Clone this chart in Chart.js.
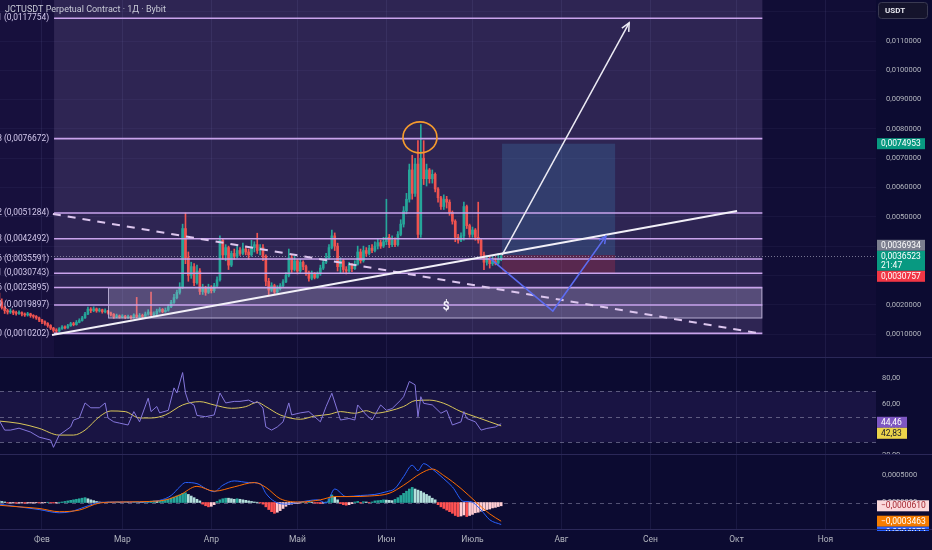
<!DOCTYPE html>
<html>
<head>
<meta charset="utf-8">
<script src="https://cdn.jsdelivr.net/npm/chart.js@4.4.1/dist/chart.umd.min.js"></script>
<style>
  html, body { margin: 0; padding: 0; background: #0c0b31; overflow: hidden; }
  #wrap { position: relative; width: 932px; height: 550px; }
  #wrap canvas { position: absolute; left: 0; }
</style>
</head>
<body>
<div id="wrap">
  <canvas id="priceChart" width="932" height="358" style="top:0"></canvas>
  <canvas id="rsiChart" width="932" height="97" style="top:358px"></canvas>
  <canvas id="macdChart" width="932" height="95" style="top:455px"></canvas>
</div>
<script>
// prices are kept in units of 0.0001 USDT, days counted from 1 Feb (day 0)
const firstDay = -15;
const openFirst = 24;

const closes = [
  21, 19, 18, 17.5, 17.8, 17.2, 17.0, 17.3, 16.8, 16.5,
  16.9, 16.3, 16.0, 15.5, 14.8, 14.2, 13.6, 12.9, 12.0, 11.2,
  11.0, 11.8, 12.4, 12.1, 12.8, 13.5, 13.2, 14.0, 14.6, 15.5,
  16.8, 18.5, 18.0, 18.6, 17.9, 18.3, 17.6, 17.9, 17.2, 16.7,
  15.9, 16.2, 15.8, 16.1, 15.7, 16.0, 15.6, 16.5, 15.9, 16.3,
  16.0, 16.8, 17.5, 16.6, 16.9, 17.8, 18.4, 17.6, 18.1, 19.3,
  20.8, 22.4, 24.2, 26.0, 46, 36, 30, 33, 27.5, 31.5,
  24.5, 25.5, 24.2, 25.8, 24.8, 26.5, 28.5, 42, 37, 39.5,
  33.5, 37.5, 36.5, 38.5, 37.5, 39, 38, 37, 39.5, 40.5,
  38.5, 39.5, 36.5, 28, 25, 26.5, 24.3, 25.5, 26.5, 27.8,
  30, 36, 32, 35, 31.5, 34.5, 33, 31, 29, 30.5,
  29.3, 30.5, 32.5, 34.5, 36, 39.5, 43.5, 40, 33, 35,
  32, 31.5, 33.5, 32.3, 33.8, 38, 35, 38.5, 37.5, 39.3,
  38.5, 40, 41.2, 40, 41.5, 43, 40.5, 42, 40.5, 44,
  47.5, 52, 56, 66, 58, 68, 44, 70, 63, 66,
  63, 64.5, 59.5, 56.5, 53.5, 56, 55, 51.5, 48.5, 43,
  42, 43.5, 53.5, 47, 44, 45.5, 43, 42, 37, 34.5,
  35.8, 34, 35, 34.2, 35.5, 36.523
];
const highs = [
  25, 22, 19.5, 18.5, 18.6, 18.2, 17.8, 17.9, 17.6, 17.2,
  17.4, 17.1, 16.6, 16.3, 15.8, 15.0, 14.5, 13.9, 13.2, 12.3,
  11.8, 12.2, 12.9, 12.8, 13.3, 14.0, 14.0, 14.6, 15.2, 16.0,
  17.4, 19.2, 19.0, 19.3, 18.9, 18.8, 18.5, 18.6, 18.1, 17.5,
  17.0, 16.8, 16.5, 16.6, 16.4, 16.5, 16.3, 16.9, 22.5, 17.0,
  16.8, 17.5, 18.3, 24.3, 17.6, 18.5, 19.0, 18.7, 18.9, 20.0,
  21.5, 23.5, 25.0, 27.5, 47.5, 51.3, 38, 34.5, 34, 33.5,
  32.3, 27, 26.3, 27, 26.5, 27.3, 29.5, 43.5, 42.5, 40.5,
  40, 38.3, 39, 40, 39.5, 41, 40, 39, 42, 41.5,
  44.4, 40.5, 40.5, 37, 29, 27.5, 27, 26.5, 27.2, 28.6,
  31, 39, 37, 36.5, 35.5, 35.5, 35, 33.5, 31.5, 31.5,
  31, 31.2, 33.5, 35.5, 37.5, 40.5, 45.5, 44.5, 41, 36,
  35.5, 33, 34.5, 34, 35, 40, 39, 40, 39.5, 40.3,
  40.5, 41.5, 42.5, 42, 43, 56, 44, 43.5, 42.8, 45,
  49, 53.5, 58, 68, 71, 70, 76, 81.5, 76, 68,
  66.5, 66, 65, 60, 57, 57.5, 57, 55.8, 52, 49,
  44, 44.5, 55, 54, 47.5, 46.5, 46, 55, 42.5, 38,
  36.8, 36.2, 36.3, 36, 37.5, 37
];
const lows = [
  20, 18.5, 17, 16.8, 17, 16.6, 16.4, 16.7, 16.2, 16.0,
  16.1, 15.7, 15.4, 15.0, 14.2, 13.5, 13.0, 12.3, 11.5, 10.6,
  10.2, 10.8, 11.6, 11.7, 11.9, 12.6, 12.8, 13.0, 13.8, 14.4,
  15.3, 16.6, 17.3, 17.6, 17.4, 17.5, 17.1, 17.2, 16.8, 16.2,
  15.3, 15.5, 15.4, 15.5, 15.2, 15.3, 15.1, 15.4, 15.5, 15.6,
  15.5, 15.7, 16.4, 16.2, 16.2, 16.6, 17.4, 17.2, 17.4, 17.8,
  19.0, 20.4, 22.0, 23.6, 25.5, 34, 28, 29, 26.5, 27,
  23.5, 23.5, 23.2, 23.8, 24, 24.2, 26, 28, 35.5, 35,
  32, 33, 35.5, 36, 36.8, 37, 37, 35.5, 36.5, 38,
  37.5, 37, 35, 26.5, 23.3, 24.5, 23.8, 24, 25, 26,
  27.5, 29.5, 31, 31.5, 30.5, 31, 32, 30, 28, 28.5,
  28.8, 29, 30, 32, 34, 35.5, 39, 38.5, 31.5, 30.8,
  31, 30.5, 31, 31.3, 32, 33.5, 34.2, 34.5, 36.5, 37,
  37.8, 38, 39, 39.2, 39.5, 40.5, 39.5, 39.8, 39.8, 40,
  43.5, 46.5, 51, 55, 56, 57, 42.5, 43, 61, 60.5,
  61.5, 61.5, 58.5, 55, 52.5, 52.5, 53, 50.5, 47.5, 41.5,
  41, 41.5, 42, 46, 43, 43, 42, 41, 36, 32,
  33.5, 32.5, 33.4, 33.6, 33.8, 35
];

// RSI (14) and its moving average, read at selected days
const rsiDays = [-15, -13, -11, -8, -4, -1, 3, 4, 6, 10, 11, 13, 15, 17, 20, 22, 23, 25, 27, 30,
  32, 34, 37, 38, 40, 41, 44, 46, 47, 49, 50, 51, 53, 54, 57, 60, 62, 64, 67, 69,
  72, 74, 75, 77, 78, 80, 82, 84, 86, 87, 90, 93, 97, 99, 101, 104, 107, 109, 110, 113,
  115, 118, 120, 122, 125, 126, 128, 130, 131, 132, 133, 136, 139, 141, 143, 146, 147, 148, 151, 153,
  155, 158, 160];
const rsiVals = [47.4, 39.5, 39.5, 41, 38, 34, 31.7, 26, 35.6, 42, 47.4, 49, 60.8, 57, 57, 60.8, 49, 46, 45, 43.5,
  54, 46, 64.5, 54, 58, 53, 55, 72.6, 68.6, 84.6, 68.6, 61.8, 59, 51, 50, 51.4, 68.6, 60.8, 62, 62,
  63, 60.8, 62, 56.8, 42, 39.5, 42, 46, 60.8, 51.4, 53, 54, 46, 58, 68.4, 47.4, 48.6, 47.4, 59.2, 51.4,
  47.4, 59.2, 55, 56.4, 63, 65.7, 77.6, 75, 50, 65.7, 60.5, 59.2, 52.7, 55, 43.5, 46, 54, 48.6, 46, 39.5,
  40.8, 42, 44.46];
const rsiMaDays = [-15, -8, -1, 6, 11, 15, 20, 24, 29, 34, 38, 43, 49, 55, 60, 66, 71, 75, 78, 83,
  90, 95, 100, 104, 109, 113, 116, 121, 126, 130, 135, 140, 146, 151, 156, 160];
const rsiMaVals = [46.6, 44.8, 40.9, 35.6, 35.6, 39.5, 50, 54.5, 54, 49, 49, 51.4, 59.2, 61.8, 59.2, 56.6, 57.9, 61.3, 57.9, 51.4,
  48, 50.5, 51.8, 54, 52.7, 54.7, 52.7, 54.5, 58, 62.6, 63, 60.5, 54, 50, 46, 42.83];

// MACD (units of 0.0001)
const macdDays = [-15, -8, -1, 6, 10, 15, 20, 27, 34, 41, 45, 48, 50, 54, 57, 60, 63, 67, 72, 76,
  78, 81, 85, 90, 96, 99, 102, 106, 111, 116, 120, 123, 126, 129, 131, 133, 136, 140, 143, 147,
  149, 153, 156, 160];
const macdVals = [-0.3, -0.8, -1.3, -1.9, -1.7, -0.8, 0, 0.1, 0.1, 0.4, 1.3, 2.9, 3.7, 3.5, 2.6, 2.0, 3.2, 4.0, 3.7, 3.5,
  1.7, 0.2, -0.3, 0.1, 0.5, -0.1, 2.5, 1.1, 1.3, 1.5, 2.0, 2.6, 4.8, 6.9, 5.9, 7.2, 6.2, 4.4, 2.9, 0.2,
  0.2, -1.4, -3.2, -4.073];
const signalDays = [-15, -8, -1, 6, 13, 20, 27, 41, 48, 54, 60, 67, 74, 78, 83, 90, 97, 102, 107, 114,
  121, 126, 132, 136, 140, 146, 151, 156, 160];
const signalVals = [-0.5, -0.8, -1.1, -1.7, -1.4, -0.1, 0.1, 0.3, 1.4, 3.0, 2.1, 2.9, 3.7, 2.8, 0.7, 0.1, 0.5, 1.1, 1.1, 1.2,
  1.7, 3.2, 5.4, 6.2, 5.0, 2.6, 0.2, -2.1, -3.463];
const histVals = [
  0.3, 0.2, 0.1, -0.1, -0.1,
  -0.1, -0.15, -0.1, -0.1, -0.15, -0.1, -0.1, -0.1, -0.05, -0.1, -0.05,
  -0.05, 0.05, -0.05, -0.1, -0.1, 0.05, 0.1,
  0.2, 0.3, 0.4, 0.5, 0.6, 0.7, 0.8, 0.9,
  0.7, 0.5, 0.35, 0.2, 0.1,
  0.05, -0.05, 0.05, 0.02, -0.03, 0.05, 0.03, -0.02, 0.04, 0.02, -0.03, 0.05, 0.06, 0.03, 0.02, 0.05,
  0.2, 0.25, 0.3, 0.25, 0.3, 0.35,
  0.5, 0.6, 0.8, 1.0, 1.2, 1.4, 1.7, 1.8,
  1.5, 1.2, 0.9, 0.6, 0.3,
  -0.3, -0.6, -0.8, -0.7, -0.4,
  0.2, 0.5, 0.7, 0.8, 0.8, 0.7, 0.6, 0.7, 0.6, 0.5, 0.4, 0.3,
  0.2, 0.1, 0.05, -0.1, -0.3,
  -0.8, -1.3, -1.7, -2.0, -1.8, -1.5, -1.1, -0.7,
  -0.4, -0.3, -0.2, -0.15, -0.1,
  0.05, -0.05, 0.1, 0.05, -0.1, -0.15, -0.2,
  -0.1, 0.1, 0.7, 1.4, 1.0, 0.5,
  -0.2, -0.4, -0.5, -0.4, -0.2,
  0.1, 0.2, -0.1, 0.15, 0.1, -0.05, 0.1,
  0.3, 0.35, 0.4, 0.5, 0.45, 0.4, 0.35,
  0.6, 0.9, 1.3, 1.7, 2.1, 2.5, 2.8,
  2.5, 2.3, 2.1, 1.8, 1.5, 1.2, 0.8, 0.5,
  -0.4, -0.8, -1.1, -1.4, -1.7, -2.0, -2.4, -2.6,
  -2.5, -2.3, -2.6, -2.4, -2.2,
  -1.9, -1.8, -1.6, -1.5, -1.3, -1.2, -1.0, -0.9, -0.75, -0.61
];

// time axis
const monthDays = [0, 28, 59, 89, 120, 150, 181, 212, 242, 273];
const monthNames = ['Фев', 'Мар', 'Апр', 'Май', 'Июн', 'Июль', 'Авг', 'Сен', 'Окт', 'Ноя'];

// drawings (day, price)
const fibLevels = [117.754, 76.672, 51.284, 42.492, 35.591, 30.743, 25.895, 19.897, 10.202];
const fibTags = ['1', '0.618', '0.382', '0.3', '0.236', '0.191', '0.146', '0.09', '0'];
const fibFrom = 4.2, fibTo = 251;
const zone = { from: 23, to: 251, top: 25.895, bottom: 15.3 };
const supportLine = [[3.5, 9.66], [242.2, 52.0]];
const resistLine = [[3.8, 50.96], [249.1, 10.36]];
const targetArrow = [[160.3, 36.9], [204.6, 116.2]];
const bluePath = [[156, 35.9], [178, 17.85], [196.5, 43.4]];
const position = { from: 160.3, to: 199.7, entry: 36.934, target: 74.953, stop: 30.757 };
const peakMark = [131.7, 77.1];
const dollarMark = [140.8, 19.2];
const countdown = '21:47';

const X_MIN = -14.63, X_MAX = 290.6;
const UP = '#26a69a', DOWN = '#ef5350';
const FONT = "Roboto, 'Noto Sans', sans-serif";

Chart.defaults.font.family = FONT;
Chart.defaults.font.size = 7.5;
Chart.defaults.color = '#b2b5be';

const days = closes.map((c, k) => firstDay + k);
const opens = closes.map((c, k) => k ? closes[k - 1] : openFirst);
const candleColors = closes.map((c, k) => c >= opens[k] ? UP : DOWN);

const fmt7 = v => (v / 1e4).toFixed(7).replace('.', ',').replace('-', '\u2212');
const fmt2 = v => v.toFixed(2).replace('.', ',');

function xScale(showLabels) {
  return {
    type: 'linear', min: X_MIN, max: X_MAX, offset: false,
    afterBuildTicks: s => { s.ticks = monthDays.map(v => ({ value: v })); },
    ticks: {
      display: showLabels, autoSkip: false, maxRotation: 0, padding: 5,
      color: '#b2b5be', font: { size: 8.5 },
      callback: v => monthNames[monthDays.indexOf(v)]
    },
    grid: { color: 'rgba(150,150,220,0.10)', drawTicks: false, offset: false },
    border: { display: false },
    afterFit: s => {
      s.height = showLabels ? 20 : 0;
      s.paddingLeft = 0; s.paddingRight = 0;
    }
  };
}

function yScale(min, max, step, fmt, pad, grid, ticksList) {
  return {
    position: 'right', min, max,
    afterBuildTicks: ticksList ? (s => { s.ticks = ticksList.map(v => ({ value: v })); }) : undefined,
    ticks: { stepSize: step, padding: pad, callback: fmt, includeBounds: false, autoSkip: false, color: '#b2b5be' },
    grid: { display: grid, color: 'rgba(150,150,220,0.06)', drawTicks: false },
    border: { display: false },
    afterFit: s => {
      s.width = 56;
      s.paddingTop = 0; s.paddingBottom = 0;
    }
  };
}

const base = {
  responsive: false, animation: false, events: [],
  layout: { padding: 0 },
  plugins: { legend: { display: false }, tooltip: { enabled: false } }
};

function line(ctx, pts, color, width, dash) {
  ctx.save();
  ctx.strokeStyle = color; ctx.lineWidth = width;
  ctx.setLineDash(dash || []);
  ctx.beginPath();
  pts.forEach((p, k) => k ? ctx.lineTo(p[0], p[1]) : ctx.moveTo(p[0], p[1]));
  ctx.stroke();
  ctx.restore();
}

function arrowHead(ctx, a, b, color, len) {
  const ang = Math.atan2(b[1] - a[1], b[0] - a[0]);
  line(ctx, [
    [b[0] - len * Math.cos(ang - 0.45), b[1] - len * Math.sin(ang - 0.45)],
    b,
    [b[0] - len * Math.cos(ang + 0.45), b[1] - len * Math.sin(ang + 0.45)]
  ], color, 1.5);
}

function tag(ctx, x, top, w, h, bg, fg, lines) {
  ctx.save();
  ctx.fillStyle = bg;
  ctx.fillRect(x, top, w, h);
  ctx.fillStyle = fg;
  ctx.font = '8.5px ' + FONT;
  ctx.textBaseline = 'middle';
  ctx.textAlign = 'left';
  lines.forEach((t, k) => ctx.fillText(t, x + 4, top + 5.8 + k * 9));
  ctx.restore();
}

function separator(chart) {
  const { ctx, chartArea: a } = chart;
  ctx.save();
  ctx.strokeStyle = '#2b2858';
  ctx.lineWidth = 1;
  ctx.beginPath();
  ctx.moveTo(0, a.bottom - 0.5);
  ctx.lineTo(chart.width, a.bottom - 0.5);
  ctx.stroke();
  ctx.restore();
}

// ---------- price pane ----------
const priceDrawings = {
  id: 'priceDrawings',
  beforeDraw(chart) {
    const { ctx, chartArea: a, scales: { x, y } } = chart;
    const fx0 = x.getPixelForValue(fibFrom), fx1 = x.getPixelForValue(fibTo);
    ctx.save();
    ctx.fillStyle = '#110d36';
    ctx.fillRect(a.left, a.top, a.width, a.height);
    ctx.fillStyle = '#17103d';
    ctx.fillRect(a.left, a.top, fx0 - a.left, a.height);
    ctx.fillStyle = '#2e2553';
    ctx.fillRect(fx0, a.top, fx1 - fx0, y.getPixelForValue(fibLevels[fibLevels.length - 1]) - a.top);
    ctx.restore();
  },
  beforeDatasetsDraw(chart) {
    const { ctx, chartArea: a, scales: { x, y } } = chart;
    const px0 = x.getPixelForValue(position.from), px1 = x.getPixelForValue(position.to);
    const ye = y.getPixelForValue(position.entry);
    ctx.save();
    ctx.fillStyle = 'rgba(60,120,170,0.3)';
    ctx.fillRect(px0, y.getPixelForValue(position.target), px1 - px0, ye - y.getPixelForValue(position.target));
    ctx.fillStyle = 'rgba(242,54,69,0.22)';
    ctx.fillRect(px0, ye, px1 - px0, y.getPixelForValue(position.stop) - ye);
    ctx.restore();
    const yc = Math.round(y.getPixelForValue(closes[closes.length - 1])) + 0.5;
    line(ctx, [[a.left, yc], [a.right, yc]], 'rgba(200,200,220,0.55)', 1, [1, 2]);
  },
  afterDatasetsDraw(chart) {
    const { ctx, scales: { x, y } } = chart;
    const P = p => [x.getPixelForValue(p[0]), y.getPixelForValue(p[1])];
    const fx0 = x.getPixelForValue(fibFrom), fx1 = x.getPixelForValue(fibTo);

    // "$" zone
    const zx0 = x.getPixelForValue(zone.from), zx1 = x.getPixelForValue(zone.to);
    const zy0 = y.getPixelForValue(zone.top), zy1 = y.getPixelForValue(zone.bottom);
    ctx.save();
    ctx.fillStyle = 'rgba(200,190,232,0.26)';
    ctx.fillRect(zx0, zy0, zx1 - zx0, zy1 - zy0);
    ctx.strokeStyle = 'rgba(215,205,240,0.7)';
    ctx.lineWidth = 1;
    ctx.strokeRect(zx0 + 0.5, zy0 + 0.5, zx1 - zx0 - 1, zy1 - zy0 - 1);
    ctx.restore();

    // fib levels
    fibLevels.forEach((v, k) => {
      const py = y.getPixelForValue(v);
      line(ctx, [[fx0, py], [fx1, py]], '#c9a3ec', 1.6);
      ctx.save();
      ctx.fillStyle = '#d2c8ec';
      ctx.font = '8.4px ' + FONT;
      ctx.textAlign = 'right';
      ctx.textBaseline = 'middle';
      ctx.fillText(fibTags[k] + ' (' + fmt7(v) + ')', fx0 - 5, py);
      ctx.restore();
    });

    line(ctx, resistLine.map(P), '#dcc6ee', 2, [8, 7]);
    line(ctx, supportLine.map(P), '#f2f0f8', 2);

    const ta = targetArrow.map(P);
    line(ctx, ta, '#ecebf4', 1.5);
    arrowHead(ctx, ta[0], ta[1], '#ecebf4', 9);

    const bp = bluePath.map(P);
    line(ctx, bp, '#5d6cf0', 1.6);
    arrowHead(ctx, bp[1], bp[2], '#5d6cf0', 8);

    const pm = P(peakMark);
    ctx.save();
    ctx.strokeStyle = '#f59b2d';
    ctx.lineWidth = 1.6;
    ctx.beginPath();
    ctx.ellipse(pm[0], pm[1], 17, 15.5, 0, 0, Math.PI * 2);
    ctx.stroke();
    const dm = P(dollarMark);
    ctx.fillStyle = '#f4f2fa';
    ctx.font = 'bold 12px ' + FONT;
    ctx.textAlign = 'center';
    ctx.textBaseline = 'middle';
    ctx.fillText('$', dm[0], dm[1]);
    ctx.restore();
  },
  afterDraw(chart) {
    const { ctx, chartArea: a, scales: { y } } = chart;
    const ax = a.right + 1, w = 48;
    ctx.save();
    ctx.fillStyle = '#c8cad6';
    ctx.font = '9px ' + FONT;
    ctx.textBaseline = 'middle';
    ctx.fillText('JCTUSDT Perpetual Contract · 1Д · Bybit', 5, 10);
    ctx.restore();

    tag(ctx, ax, y.getPixelForValue(position.target) - 5.5, w, 11, '#089981', '#ffffff', [fmt7(position.target)]);
    const last = closes[closes.length - 1];
    const curTop = y.getPixelForValue(last) - 5.5, curBot = curTop + 20;
    const entryTop = Math.min(y.getPixelForValue(position.entry) - 5.5, curTop - 11);
    const stopTop = Math.max(y.getPixelForValue(position.stop) - 5.5, curBot);
    tag(ctx, ax, entryTop, w, 11, '#7c7f8f', '#ffffff', [fmt7(position.entry)]);
    tag(ctx, ax, curTop, w, 20, '#089981', '#ffffff', [fmt7(last), countdown]);
    tag(ctx, ax, stopTop, w, 11, '#f23645', '#ffffff', [fmt7(position.stop)]);

    // currency box
    ctx.save();
    ctx.fillStyle = '#15142c';
    ctx.strokeStyle = '#3a3a52';
    ctx.lineWidth = 1;
    ctx.beginPath();
    ctx.roundRect(878.5, 2.5, 49, 16, 3);
    ctx.fill();
    ctx.stroke();
    ctx.fillStyle = '#e6e6ee';
    ctx.font = 'bold 8px ' + FONT;
    ctx.textBaseline = 'middle';
    ctx.fillText('USDT', 885, 11);
    ctx.restore();
    separator(chart);
  }
};

new Chart(document.getElementById('priceChart'), {
  type: 'bar',
  data: {
    datasets: [
      { data: days.map((d, k) => ({ x: d, y: [opens[k], closes[k]] })), backgroundColor: candleColors,
        barThickness: 2, minBarLength: 1, grouped: false, order: 0 },
      { data: days.map((d, k) => ({ x: d, y: [lows[k], highs[k]] })), backgroundColor: candleColors,
        barThickness: 1, grouped: false, order: 1 }
    ]
  },
  options: {
    ...base,
    scales: {
      x: xScale(false),
      y: yScale(1.81, 124.0, 10, fmt7, 10, true)
    }
  },
  plugins: [priceDrawings]
});

// ---------- RSI pane ----------
const rsiDrawings = {
  id: 'rsiDrawings',
  beforeDatasetsDraw(chart) {
    const { ctx, chartArea: a, scales: { y } } = chart;
    const y70 = y.getPixelForValue(70), y30 = y.getPixelForValue(30);
    ctx.save();
    ctx.fillStyle = 'rgba(126,87,194,0.12)';
    ctx.fillRect(a.left, y70, a.width, y30 - y70);
    ctx.restore();
    [70, 50, 30].forEach(v => {
      const py = Math.round(y.getPixelForValue(v)) + 0.5;
      line(ctx, [[a.left, py], [a.right, py]], 'rgba(140,140,170,0.6)', 1, [4, 4]);
    });
  },
  afterDraw(chart) {
    const { ctx, chartArea: a, scales: { y } } = chart;
    const rsiLast = rsiVals[rsiVals.length - 1], maLast = rsiMaVals[rsiMaVals.length - 1];
    const t1 = y.getPixelForValue(rsiLast) - 7;
    tag(ctx, a.right + 1, t1, 30, 11, '#7e57c2', '#ffffff', [fmt2(rsiLast)]);
    tag(ctx, a.right + 1, t1 + 11, 30, 11, '#ecd44a', '#1a1a2a', [fmt2(maLast)]);
    separator(chart);
  }
};

new Chart(document.getElementById('rsiChart'), {
  type: 'line',
  data: {
    datasets: [
      { data: rsiDays.map((d, k) => ({ x: d, y: rsiVals[k] })), borderColor: '#8577dc', borderWidth: 1,
        pointRadius: 0, tension: 0 },
      { data: rsiMaDays.map((d, k) => ({ x: d, y: rsiMaVals[k] })), borderColor: '#d9c65a', borderWidth: 1,
        pointRadius: 0, cubicInterpolationMode: 'monotone' }
    ]
  },
  options: {
    ...base,
    scales: {
      x: xScale(false),
      y: yScale(20, 96, 20, fmt2, 6, false)
    }
  },
  plugins: [rsiDrawings]
});

// ---------- MACD pane ----------
const histColors = histVals.map((v, k) => {
  const p = k ? histVals[k - 1] : v;
  if (v >= 0) return v > p ? '#26a69a' : '#b2dfdb';
  return v < p ? '#ff5252' : '#ffcdd2';
});

const macdDrawings = {
  id: 'macdDrawings',
  beforeDatasetsDraw(chart) {
    const { ctx, chartArea: a, scales: { y } } = chart;
    const py = Math.round(y.getPixelForValue(0)) + 0.5;
    line(ctx, [[a.left, py], [a.right, py]], 'rgba(140,140,170,0.55)', 1, [4, 4]);
  },
  afterDraw(chart) {
    const { ctx, chartArea: a, scales: { y } } = chart;
    const h = histVals[histVals.length - 1], s = signalVals[signalVals.length - 1], m = macdVals[macdVals.length - 1];
    const ax = a.right + 1, w = 52;
    ctx.save();
    ctx.beginPath();
    ctx.rect(0, 0, chart.width, a.bottom + 1);
    ctx.clip();
    tag(ctx, ax, y.getPixelForValue(h) - 5.5, w, 11, '#fbd9dc', '#a3262f', [fmt7(h)]);
    const sTop = y.getPixelForValue(s) - 5.5;
    tag(ctx, ax, sTop, w, 11, '#f57c00', '#ffffff', [fmt7(s)]);
    tag(ctx, ax, Math.max(y.getPixelForValue(m) - 5.5, sTop + 11), w, 11, '#2962ff', '#ffffff', [fmt7(m)]);
    ctx.restore();
    separator(chart);
  }
};

new Chart(document.getElementById('macdChart'), {
  type: 'bar',
  data: {
    datasets: [
      { data: histVals.map((v, k) => ({ x: firstDay + k, y: v })), backgroundColor: histColors,
        barThickness: 2, grouped: false, order: 2 },
      { type: 'line', data: macdDays.map((d, k) => ({ x: d, y: macdVals[k] })), borderColor: '#2962ff',
        borderWidth: 1, pointRadius: 0, cubicInterpolationMode: 'monotone', order: 1 },
      { type: 'line', data: signalDays.map((d, k) => ({ x: d, y: signalVals[k] })), borderColor: '#ff6d00',
        borderWidth: 1, pointRadius: 0, cubicInterpolationMode: 'monotone', order: 0 }
    ]
  },
  options: {
    ...base,
    scales: {
      x: xScale(true),
      y: yScale(-5.09, 8.8, 5, fmt7, 6, false, [0, 5])
    }
  },
  plugins: [macdDrawings]
});
</script>
</body>
</html>
